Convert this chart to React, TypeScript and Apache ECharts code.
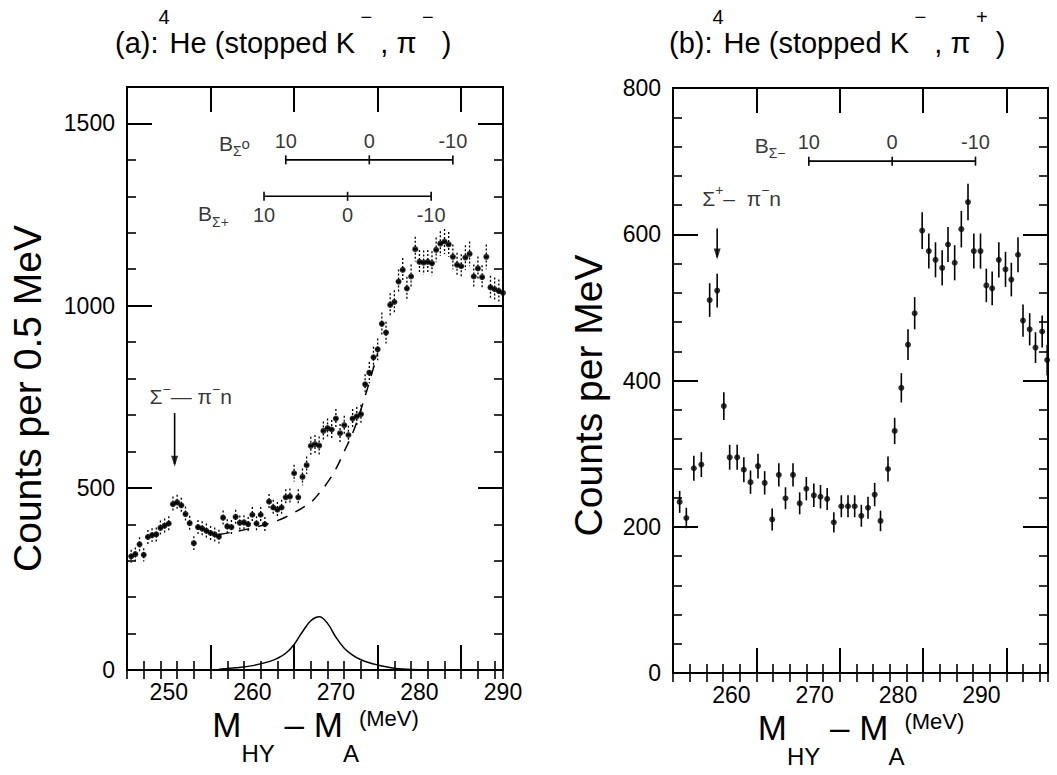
import React, { useEffect, useRef } from "react";
import * as echarts from "echarts";

const FONT = "'Liberation Sans', Arial, sans-serif";

// ---------- Panel (a): 4He (stopped K-, pi-) ----------
const aMass = [
  245.5, 246, 246.5, 247, 247.5, 248, 248.5, 249, 249.5, 250,
  250.5, 251, 251.5, 252, 252.5, 253, 253.5, 254, 254.5, 255,
  255.5, 256, 256.5, 257, 257.5, 258, 258.5, 259, 259.5, 260,
  260.5, 261, 261.5, 262, 262.5, 263, 263.5, 264, 264.5, 265,
  265.5, 266, 266.5, 267, 267.5, 268, 268.5, 269, 269.5, 270,
  270.5, 271, 271.5, 272, 272.5, 273, 273.5, 274, 274.5, 275,
  275.5, 276, 276.5, 277, 277.5, 278, 278.5, 279, 279.5, 280,
  280.5, 281, 281.5, 282, 282.5, 283, 283.5, 284, 284.5, 285,
  285.5, 286, 286.5, 287, 287.5, 288, 288.5, 289, 289.5, 290,
];
const aCounts = [
  312, 318, 345, 316, 365, 370, 372, 390, 396, 402,
  455, 460, 452, 428, 403, 348, 392, 388, 382, 376,
  372, 366, 418, 394, 392, 420, 404, 405, 400, 426,
  402, 426, 400, 462, 446, 440, 446, 474, 476, 540,
  474, 530, 562, 615, 620, 616, 656, 664, 660, 690,
  650, 672, 645, 690, 696, 702, 784, 816, 858, 880,
  950, 926, 1002, 1010, 1066, 1098, 1047, 1080, 1155, 1120,
  1118, 1120, 1116, 1153, 1170, 1176, 1168, 1134, 1112, 1108,
  1132, 1142, 1080, 1102, 1078, 1134, 1050, 1045, 1040, 1035,
];
const aErrors = [
  18, 18, 19, 18, 19, 19, 19, 20, 20, 20,
  21, 21, 21, 21, 20, 19, 20, 20, 20, 19,
  19, 19, 20, 20, 20, 20, 20, 20, 20, 21,
  20, 21, 20, 21, 21, 21, 21, 22, 22, 23,
  22, 23, 24, 25, 25, 25, 26, 26, 26, 26,
  25, 26, 25, 26, 26, 26, 28, 29, 29, 30,
  31, 30, 32, 32, 33, 33, 32, 33, 34, 33,
  33, 33, 33, 34, 34, 34, 34, 34, 33, 33,
  34, 34, 33, 33, 33, 34, 32, 32, 32, 32,
];
// dashed background curve
const aBgMass = [256, 258, 260, 262, 263, 264, 265, 266, 267, 268, 269, 270, 271, 272, 273, 274, 275];
const aBgCounts = [372, 380, 390, 402, 410, 420, 432, 445, 460, 485, 515, 552, 600, 650, 715, 790, 870];
// solid peak curve
const aPeakMass = [256, 258, 260, 262, 263, 264, 265, 266, 267, 268, 269, 270, 271, 272, 273, 274, 275, 276, 277, 278, 280];
const aPeakCounts = [2, 6, 12, 23, 32, 46, 70, 105, 135, 146, 128, 90, 60, 41, 28, 20, 14, 9, 5, 3, 1];
// binding-energy scales
const bSigma0Ticks = [264, 274, 284];
const bSigmaPlusTicks = [261.4, 271.4, 281.4];
const bScaleLabels = ["10", "0", "-10"];
const bSigma0Level = 1400;
const bSigmaPlusLevel = 1300;
const aArrowMass = 250.7;
const aArrowFrom = 705;
const aArrowTo = 565;

// ---------- Panel (b): 4He (stopped K-, pi+) ----------
const bMass = [
  253.8, 254.6, 255.5, 256.4, 257.4, 258.3, 259.1, 259.8, 260.7, 261.5,
  262.3, 263.2, 264.0, 264.9, 265.7, 266.5, 267.4, 268.2, 269.0, 269.9,
  270.7, 271.5, 272.3, 273.2, 274.0, 274.8, 275.6, 276.4, 277.2, 277.9,
  278.8, 279.6, 280.4, 281.2, 282.0, 282.9, 283.7, 284.5, 285.3, 286.0,
  286.8, 287.6, 288.4, 289.1, 289.9, 290.6, 291.3, 292.1, 292.9, 293.6,
  294.4, 295.0, 295.8, 296.5, 297.3, 297.9,
];
const bCounts = [
  234, 212, 280, 285, 510, 523, 365, 295, 295, 278,
  261, 283, 260, 210, 271, 239, 271, 232, 252, 243,
  241, 238, 206, 228, 228, 228, 215, 226, 244, 208,
  279, 331, 390, 449, 492, 605, 577, 565, 554, 586,
  561, 607, 644, 577, 577, 530, 526, 565, 552, 538,
  572, 482, 470, 445, 467, 428,
];
const bErrors = [
  15, 14, 17, 17, 23, 23, 19, 17, 17, 17,
  16, 17, 16, 15, 16, 15, 16, 15, 16, 16,
  16, 15, 14, 15, 15, 15, 15, 15, 16, 14,
  17, 18, 20, 21, 22, 25, 24, 24, 24, 24,
  24, 25, 25, 24, 24, 23, 23, 24, 24, 23,
  24, 22, 22, 21, 22, 21,
];
const bSigmaMinusTicks = [269.3, 279.3, 289.3];
const bSigmaMinusLevel = 700;
const bArrowMass = 258.3;
const bArrowFrom = 608;
const bArrowTo = 569;

// axis tick labels
const aXLabels = [250, 260, 270, 280, 290];
const aYLabels = [0, 500, 1000, 1500];
const bXLabels = [260, 270, 280, 290];
const bYLabels = [0, 200, 400, 600, 800];

const BLACK = "#000";
const tickFont = { color: BLACK, fontFamily: FONT, fontSize: 23 };

const xNameRich = {
  sp: { fontSize: 4, lineHeight: 58, verticalAlign: "top" },
  m: { fontSize: 35, fontFamily: FONT, color: BLACK, lineHeight: 26, verticalAlign: "top" },
  sub: { fontSize: 24, fontFamily: FONT, color: BLACK, lineHeight: 24, verticalAlign: "bottom" },
  u: { fontSize: 22, fontFamily: FONT, color: BLACK, lineHeight: 22, verticalAlign: "top" },
};
const X_NAME = "{sp| }{m|M}{sub|HY}{m| – M}{sub|A}{u|(MeV)}";

const majorTick = { show: true, inside: true, length: 25, lineStyle: { color: BLACK, width: 2 } };
const minorTick = { show: true, inside: true, length: 9, lineStyle: { color: BLACK, width: 1.6 } };

function xAxes(grid: number, min: number, max: number, labels: number[]) {
  const base: any = {
    type: "value", gridIndex: grid, min, max,
    splitLine: { show: false },
    axisLine: { show: true, onZero: false, lineStyle: { color: BLACK, width: 2 } },
  };
  return [
    { ...base, position: "bottom", interval: 10, axisTick: majorTick,
      axisLabel: { show: true, customValues: labels, margin: 10, formatter: (v: number) => String(v), ...tickFont },
      name: X_NAME, nameLocation: "middle", nameGap: 37, nameMoveOverlap: false, nameTextStyle: { rich: xNameRich } },
    { ...base, position: "bottom", interval: 2, axisLine: { show: false }, axisTick: minorTick, axisLabel: { show: false } },
    { ...base, position: "top", interval: 10, axisTick: majorTick, axisLabel: { show: false } },
    { ...base, position: "top", interval: 2, axisLine: { show: false }, axisTick: minorTick, axisLabel: { show: false } },
  ];
}

function yAxes(grid: number, min: number, max: number, labels: number[], major: number, minor: number,
  name: string, gap: number, pad: number) {
  const base: any = {
    type: "value", gridIndex: grid, min, max,
    splitLine: { show: false },
    axisLine: { show: true, onZero: false, lineStyle: { color: BLACK, width: 2 } },
  };
  return [
    { ...base, position: "left", interval: major, axisTick: majorTick,
      axisLabel: { show: true, customValues: labels, margin: 12, formatter: (v: number) => String(v), ...tickFont },
      name, nameLocation: "middle", nameGap: gap, nameRotate: 90,
      nameTextStyle: { color: BLACK, fontFamily: FONT, fontSize: 39, padding: [0, pad, 0, 0] } },
    { ...base, position: "left", interval: minor, axisLine: { show: false }, axisTick: minorTick, axisLabel: { show: false } },
    { ...base, position: "right", interval: major, axisTick: majorTick, axisLabel: { show: false } },
    { ...base, position: "right", interval: minor, axisLine: { show: false }, axisTick: minorTick, axisLabel: { show: false } },
  ];
}

function errorBars(dashed: boolean, halfBin: number) {
  return (params: any, api: any) => {
    const x = api.value(0);
    const y = api.value(1);
    const e = api.value(2);
    const top = api.coord([x, y + e]);
    const bot = api.coord([x, y - e]);
    const children: any[] = [
      { type: "line", shape: { x1: top[0], y1: top[1], x2: bot[0], y2: bot[1] },
        style: { stroke: BLACK, lineWidth: dashed ? 1.3 : 1.6, lineDash: dashed ? [2, 2] : null } },
    ];
    if (halfBin > 0) {
      const l = api.coord([x - halfBin, y]);
      const r = api.coord([x + halfBin, y]);
      children.push({ type: "line", shape: { x1: l[0], y1: l[1], x2: r[0], y2: r[1] }, style: { stroke: BLACK, lineWidth: 2.2 } });
    }
    return { type: "group", children };
  };
}

const annRich = {
  m: { fontSize: 21, fontFamily: FONT, color: BLACK, lineHeight: 30, verticalAlign: "middle" },
  sup: { fontSize: 14, fontFamily: FONT, color: BLACK, lineHeight: 13, verticalAlign: "top" },
  sub: { fontSize: 14, fontFamily: FONT, color: BLACK, lineHeight: 12, verticalAlign: "bottom" },
  mid: { fontSize: 15, fontFamily: FONT, color: BLACK, lineHeight: 24, verticalAlign: "middle" },
};

function textPoint(grid: number, x: number, y: number, text: string) {
  return {
    type: "scatter", xAxisIndex: grid * 4, yAxisIndex: grid * 4, symbolSize: 0.1,
    itemStyle: { color: "rgba(0,0,0,0)" }, silent: true, z: 5,
    data: [[x, y]],
    label: { show: true, position: "right", distance: 0, formatter: text, rich: annRich, color: BLACK, fontFamily: FONT, fontSize: 20 },
  };
}

function scaleSeries(grid: number, ticks: number[], level: number, labelOffset: number) {
  return [
    {
      type: "line", xAxisIndex: grid * 4, yAxisIndex: grid * 4,
      data: ticks.map((t) => [t, level]),
      symbol: "rect", symbolSize: [1.6, 9], itemStyle: { color: BLACK },
      lineStyle: { color: BLACK, width: 1.6 }, silent: true,
    },
    {
      type: "scatter", xAxisIndex: grid * 4, yAxisIndex: grid * 4, symbolSize: 0.1,
      itemStyle: { color: "rgba(0,0,0,0)" }, silent: true,
      data: ticks.map((t, i) => ({ value: [t, level], name: bScaleLabels[i] })),
      label: { show: true, position: "inside", offset: [0, labelOffset], formatter: (p: any) => p.name,
        color: BLACK, fontFamily: FONT, fontSize: 20 },
    },
  ];
}

function arrowSeries(grid: number, x: number, from: number, to: number) {
  return [
    {
      type: "line", xAxisIndex: grid * 4, yAxisIndex: grid * 4,
      data: [[x, from], [x, to]], showSymbol: false, symbol: "none",
      lineStyle: { color: BLACK, width: 1.6 }, silent: true,
    },
    {
      type: "scatter", xAxisIndex: grid * 4, yAxisIndex: grid * 4, silent: true,
      data: [[x, to]], symbol: "triangle", symbolRotate: 180, symbolSize: [7, 11],
      symbolOffset: [0, -3], itemStyle: { color: BLACK },
    },
  ];
}

const titleRich = {
  m: { fontSize: 29, fontFamily: FONT, fontWeight: "normal", color: BLACK, lineHeight: 50, verticalAlign: "bottom" },
  s: { fontSize: 20, fontFamily: FONT, fontWeight: "normal", color: BLACK, lineHeight: 24, verticalAlign: "top" },
};

export default function App() {
  const ref = useRef<HTMLDivElement>(null);
  useEffect(() => {
    if (!ref.current) return;
    const chart = echarts.init(ref.current, null, { renderer: "svg" });
    const option: any = {
      animation: false,
      backgroundColor: "#fff",
      title: [
        { text: "{m|(a):}{s|4}{m|He (stopped K}{s| −}{m| , π}{s| −}{m| )}", left: 110, top: 2,
          textStyle: { fontWeight: "normal", rich: titleRich } },
        { text: "{m|(b):}{s|4}{m|He (stopped K}{s| −}{m| , π}{s| +}{m| )}", left: 664, top: 2,
          textStyle: { fontWeight: "normal", rich: titleRich } },
      ],
      grid: [
        { left: 127, top: 87, width: 376, height: 583 },
        { left: 673, top: 88, width: 375, height: 585 },
      ],
      xAxis: [
        ...xAxes(0, 245, 290, aXLabels),
        ...xAxes(1, 253, 298, bXLabels),
      ],
      yAxis: [
        ...yAxes(0, 0, 1600, aYLabels, 500, 100, "Counts per 0.5 MeV", 80, 40),
        ...yAxes(1, 0, 800, bYLabels, 200, 40, "Counts per MeV", 65, 30),
      ],
      series: [
        // panel (a)
        {
          type: "custom", xAxisIndex: 0, yAxisIndex: 0, clip: true, silent: true,
          renderItem: errorBars(true, 0.25),
          data: aMass.map((m, i) => [m, aCounts[i], aErrors[i]]),
          encode: { x: 0, y: 1 },
        },
        {
          type: "scatter", xAxisIndex: 0, yAxisIndex: 0, symbolSize: 6, silent: true,
          itemStyle: { color: BLACK }, data: aMass.map((m, i) => [m, aCounts[i]]),
        },
        {
          type: "line", xAxisIndex: 0, yAxisIndex: 0, smooth: 0.4, showSymbol: false, silent: true,
          lineStyle: { color: BLACK, width: 1.5, type: [11, 9] },
          data: aBgMass.map((m, i) => [m, aBgCounts[i]]),
        },
        {
          type: "line", xAxisIndex: 0, yAxisIndex: 0, smooth: 0.4, showSymbol: false, silent: true,
          lineStyle: { color: BLACK, width: 1.5 },
          data: aPeakMass.map((m, i) => [m, aPeakCounts[i]]),
        },
        ...scaleSeries(0, bSigma0Ticks, bSigma0Level, -19),
        ...scaleSeries(0, bSigmaPlusTicks, bSigmaPlusLevel, 19),
        ...arrowSeries(0, aArrowMass, aArrowFrom, aArrowTo),
        textPoint(0, 247.7, 750, "{m|Σ}{sup|−}{m|— π}{sup|−}{m|n}"),
        textPoint(0, 256.0, 1445, "{m|B}{sub|Σ}{mid|o}"),
        textPoint(0, 253.5, 1252, "{m|B}{sub|Σ+}"),
        // panel (b)
        {
          type: "custom", xAxisIndex: 4, yAxisIndex: 4, clip: true, silent: true,
          renderItem: errorBars(false, 0),
          data: bMass.map((m, i) => [m, bCounts[i], bErrors[i]]),
          encode: { x: 0, y: 1 },
        },
        {
          type: "scatter", xAxisIndex: 4, yAxisIndex: 4, symbolSize: 6, silent: true,
          itemStyle: { color: BLACK }, data: bMass.map((m, i) => [m, bCounts[i]]),
        },
        ...scaleSeries(1, bSigmaMinusTicks, bSigmaMinusLevel, -19),
        ...arrowSeries(1, bArrowMass, bArrowFrom, bArrowTo),
        textPoint(1, 256.5, 649, "{m|Σ}{sup|+}{m|–  π}{sup|−}{m|n}"),
        textPoint(1, 262.8, 722, "{m|B}{sub|Σ−}"),
      ],
    };
    chart.setOption(option);
    return () => chart.dispose();
  }, []);
  return (
    <div
      ref={ref}
      style={{ position: "absolute", left: 0, top: 0, width: 1057, height: 775, background: "#fff" }}
    />
  );
}
